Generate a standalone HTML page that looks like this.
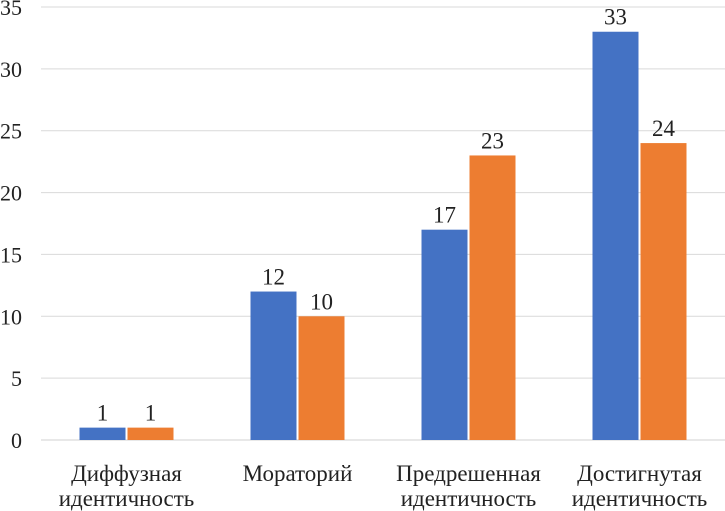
<!DOCTYPE html>
<html><head><meta charset="utf-8"><style>
html,body{margin:0;padding:0;background:#fff;}
svg{display:block;font-family:"Liberation Serif",serif;}
</style></head><body>
<svg id="chart" width="725" height="511"></svg>
<script>
const categories = [["Диффузная","идентичность"],["Мораторий"],["Предрешенная","идентичность"],["Достигнутая","идентичность"]];
const seriesA = [1, 12, 17, 33];
const seriesB = [1, 10, 23, 24];
const yTicks = [0, 5, 10, 15, 20, 25, 30, 35];
const colors = ["#4472C4", "#ED7D31"];

const svg = document.getElementById('chart');
const NS = "http://www.w3.org/2000/svg";
const x0 = 41, x1 = 725, yBase = 440, yTop = 7, yMax = 35;
const y = v => yBase - (v / yMax) * (yBase - yTop);
const catW = (x1 - x0) / categories.length;
const barW = 46, gap = 2;
function mk(tag, attrs){const e=document.createElementNS(NS,tag);for(const k in attrs)e.setAttribute(k,attrs[k]);svg.appendChild(e);return e;}

yTicks.forEach(t=>{
  const g = mk('line',{x1:x0,x2:x1,y1:y(t),y2:y(t),stroke:t===0?'#d0d0d0':'#d9d9d9','stroke-width':1});
  
  
  const l = mk('text',{x:22,y:y(t)+8,'text-anchor':'end','font-size':22,fill:'#222'});
  l.textContent = t;
  
  
});

categories.forEach((c,i)=>{
  const cx = x0 + catW*(i+0.5);
  [seriesA[i], seriesB[i]].forEach((v,s)=>{
    const bx = s===0 ? cx - gap/2 - barW : cx + gap/2;
    const r = mk('rect',{x:bx,y:y(v),width:barW,height:yBase-y(v),fill:colors[s]});
    
    
    const t = mk('text',{x:bx+barW/2,y:y(v)-7,'text-anchor':'middle','font-size':23,fill:'#222'});
    t.textContent = v;
    
    
  });
  c.forEach((line,j)=>{
    const t = mk('text',{x:cx,y:481+j*25,'text-anchor':'middle','font-size':23,fill:'#222'});
    t.textContent = line;
    
    
  });
});
</script>
</body></html>
